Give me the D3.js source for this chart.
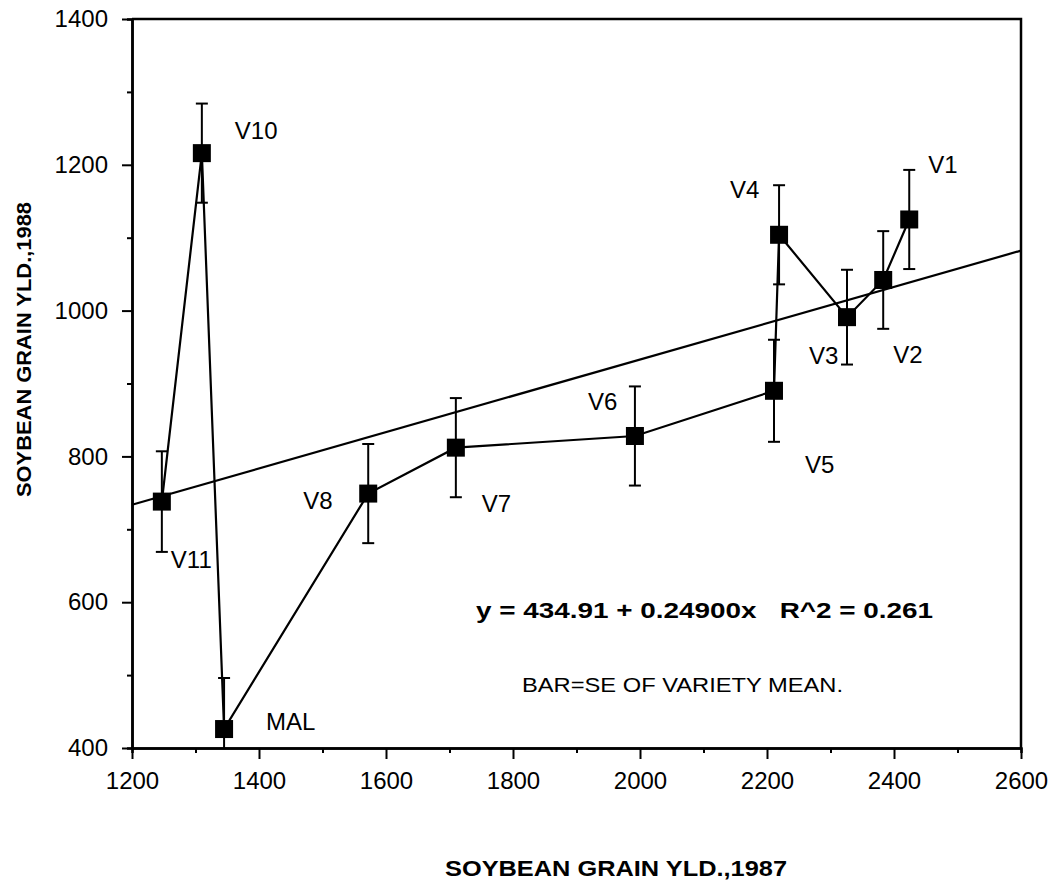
<html>
<style>
    body { margin: 0; background: #ffffff; }
    .tick text { font-family: "Liberation Sans", Arial, sans-serif; font-size: 24px; fill: #000; }
    .lbl { font-family: "Liberation Sans", Arial, sans-serif; font-size: 24px; fill: #000; }
    .bold { font-family: "Liberation Sans", Arial, sans-serif; font-weight: bold; fill: #000; }
</style>
<script src="https://d3js.org/d3.v7.min.js"></script>
<body>
<svg id="chart" width="1056" height="887"></svg>
</body>
<script>
  // varieties in the order the connecting line runs
  let varieties = ["V11", "V10", "MAL", "V8", "V7", "V6", "V5", "V4", "V3", "V2", "V1"]
  let yield1987 = [1247, 1310, 1345, 1572, 1710, 1992, 2211, 2219, 2326, 2383, 2424]
  let yield1988 = [738, 1216, 426, 749, 812, 828, 890, 1104, 991, 1042, 1125]
  let seMean = [69, 68, 70, 68, 68, 68, 70, 68, 65, 67, 68]

  let xMajor = [1200, 1400, 1600, 1800, 2000, 2200, 2400, 2600]
  let yMajor = [400, 600, 800, 1000, 1200, 1400]
  let fit = {a: 434.91, b: 0.249}

  // label offsets from each marker (px)
  let labelPos = {
    V11: [9, 66], V10: [33, -14], MAL: [42, 1], V8: [-65, 15], V7: [26, 64],
    V6: [-47, -26], V5: [31, 82], V4: [-49, -37], V3: [-38, 47], V2: [10, 83], V1: [19, -46]
  }

  let svg = d3.select('#chart')
  let x = d3.scaleLinear().domain([1200, 2600]).range([132, 1021])
  let y = d3.scaleLinear().domain([400, 1400]).range([748, 19])

  let data = varieties.map((v, i) => ({name: v, x: yield1987[i], y: yield1988[i], se: seMean[i]}))

  let minorX = d3.range(1300, 2600, 200)
  let minorY = d3.range(500, 1400, 200)
  let fmt = d3.format('d')

  // minor ticks
  svg.append('g').attr('transform', 'translate(0,748)')
     .call(d3.axisBottom(x).tickValues(minorX).tickSize(5).tickFormat(''))
  svg.append('g').attr('transform', 'translate(132,0)')
     .call(d3.axisLeft(y).tickValues(minorY).tickSize(5).tickFormat(''))
  // major ticks
  svg.append('g').attr('transform', 'translate(0,748)')
     .call(d3.axisBottom(x).tickValues(xMajor).tickFormat(fmt).tickSize(11).tickPadding(13).tickSizeOuter(0))
  svg.append('g').attr('transform', 'translate(132,0)')
     .call(d3.axisLeft(y).tickValues(yMajor).tickFormat(fmt).tickSize(10).tickPadding(14).tickSizeOuter(0))
  svg.selectAll('.domain').attr('stroke-width', 2.5)
  svg.selectAll('.tick line').attr('stroke-width', 2)

  // top and right frame
  svg.append('path')
     .attr('d', `M${x(1200)},${y(1400)}H${x(2600)}V${y(400)}`)
     .attr('fill', 'none').attr('stroke', '#000').attr('stroke-width', 2.5)

  // regression line
  svg.append('line')
     .attr('x1', x(1200)).attr('y1', y(fit.a + fit.b * 1200))
     .attr('x2', x(2600)).attr('y2', y(fit.a + fit.b * 2600))
     .attr('stroke', '#000').attr('stroke-width', 2.2)

  // error bars
  let bars = svg.append('g').attr('stroke', '#000').attr('stroke-width', 2)
  data.forEach(d => {
    let top = y(d.y + d.se), bot = y(Math.max(400, d.y - d.se))
    bars.append('line').attr('x1', x(d.x)).attr('x2', x(d.x)).attr('y1', top).attr('y2', bot)
    bars.append('line').attr('x1', x(d.x) - 6).attr('x2', x(d.x) + 6).attr('y1', top).attr('y2', top)
    if (d.y - d.se > 400)
      bars.append('line').attr('x1', x(d.x) - 6).attr('x2', x(d.x) + 6).attr('y1', bot).attr('y2', bot)
  })

  // connecting line
  let line = d3.line().x(d => x(d.x)).y(d => y(d.y))
  svg.append('path').datum(data)
     .attr('d', line).attr('fill', 'none').attr('stroke', '#000').attr('stroke-width', 2.2)

  // markers
  svg.selectAll('rect.pt').data(data).enter().append('rect')
     .attr('class', 'pt')
     .attr('x', d => x(d.x) - 9).attr('y', d => y(d.y) - 9)
     .attr('width', 18).attr('height', 18).attr('fill', '#000')

  // variety labels
  svg.selectAll('text.lbl').data(data).enter().append('text')
     .attr('class', 'lbl')
     .attr('x', d => x(d.x) + labelPos[d.name][0])
     .attr('y', d => y(d.y) + labelPos[d.name][1])
     .text(d => d.name)

  // annotations
  svg.append('text').attr('class', 'bold')
     .attr('x', 476).attr('y', 618).style('font-size', '22px').style('white-space', 'pre')
     .attr('textLength', 457).attr('lengthAdjust', 'spacingAndGlyphs')
     .text(`y = ${fit.a} + 0.24900x   R^2 = 0.261`)
  svg.append('text').attr('class', 'lbl')
     .attr('x', 522).attr('y', 692).style('font-size', '21px')
     .attr('textLength', 321).attr('lengthAdjust', 'spacingAndGlyphs')
     .text('BAR=SE OF VARIETY MEAN.')

  // axis titles
  svg.append('text').attr('class', 'bold')
     .attr('x', 445).attr('y', 876).style('font-size', '22px')
     .attr('textLength', 342).attr('lengthAdjust', 'spacingAndGlyphs')
     .text('SOYBEAN GRAIN YLD.,1987')
  svg.append('text').attr('class', 'bold')
     .attr('transform', 'translate(31,497) rotate(-90)')
     .style('font-size', '21px')
     .attr('textLength', 295).attr('lengthAdjust', 'spacingAndGlyphs')
     .text('SOYBEAN GRAIN YLD.,1988')
</script>
</html>
